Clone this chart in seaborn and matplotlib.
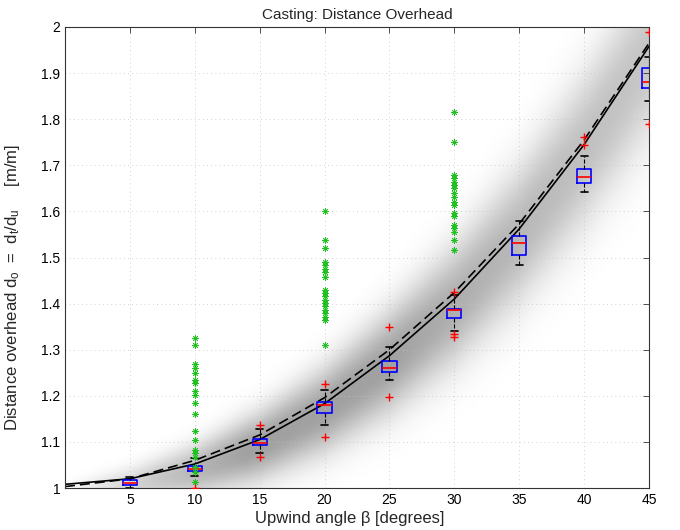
import numpy as np
import pandas as pd
import matplotlib
matplotlib.use('Agg')
import matplotlib.pyplot as plt
import seaborn as sns

# ==========================================
# DATA
# ==========================================
beta_box = [5, 10, 15, 20, 25, 30, 35, 40, 45]
whis_lo = [1.000, 1.025, 1.077, 1.137, 1.234, 1.340, 1.483, 1.641, 1.840]
q1 = [1.0065, 1.037, 1.093, 1.163, 1.251, 1.368, 1.505, 1.662, 1.868]
median = [1.0115, 1.042, 1.097, 1.179, 1.261, 1.387, 1.532, 1.675, 1.881]
q3 = [1.0167, 1.048, 1.107, 1.187, 1.275, 1.389, 1.547, 1.692, 1.910]
whis_hi = [1.0245, 1.066, 1.127, 1.212, 1.306, 1.418, 1.580, 1.721, 1.935]

out_beta = [10, 15, 15, 20, 20, 25, 25, 30, 30, 30, 40, 40, 45, 45]
out_vals = [1.001, 1.136, 1.067, 1.226, 1.110, 1.350, 1.198, 1.425, 1.335, 1.328,
            1.762, 1.745, 1.990, 1.790]

green_10 = [1.325, 1.31, 1.27, 1.26, 1.25, 1.235, 1.227, 1.21, 1.202, 1.184,
            1.161, 1.124, 1.105, 1.082, 1.076, 1.067, 1.046, 1.035, 1.014]
green_20 = [1.601, 1.539, 1.52, 1.491, 1.484, 1.476, 1.469, 1.457, 1.43, 1.423,
            1.416, 1.408, 1.401, 1.394, 1.386, 1.379, 1.372, 1.364, 1.31]
green_30 = [1.816, 1.751, 1.679, 1.672, 1.664, 1.657, 1.651, 1.639, 1.631, 1.62,
            1.614, 1.596, 1.589, 1.570, 1.563, 1.556, 1.538, 1.516]

beta_fit = [0, 5, 10, 15, 20, 25, 30, 35, 40, 45]
fit_solid = [1.008, 1.020, 1.052, 1.105, 1.183, 1.287, 1.410, 1.562, 1.745, 1.958]
fit_dashed = [1.003, 1.020, 1.060, 1.115, 1.196, 1.300, 1.424, 1.573, 1.755, 1.965]

xticks = [5, 10, 15, 20, 25, 30, 35, 40, 45]
yticks = [1.0, 1.1, 1.2, 1.3, 1.4, 1.5, 1.6, 1.7, 1.8, 1.9, 2.0]
ytick_labels = ['1', '1.1', '1.2', '1.3', '1.4', '1.5', '1.6', '1.7', '1.8', '1.9', '2']

# ==========================================
# STYLE
# ==========================================
sns.set_style('white')
plt.rcParams['font.family'] = ['Liberation Sans', 'DejaVu Sans']
plt.rcParams['mathtext.fontset'] = 'custom'
plt.rcParams['mathtext.rm'] = 'Liberation Sans'
plt.rcParams['mathtext.it'] = 'Liberation Sans'

fig = plt.figure(figsize=(6.8, 5.3), dpi=100)
ax = fig.add_axes([65 / 680, 1 - 488 / 530, 584 / 680, 461 / 530])

# gray density band around the fitted curve (spreads and fades with angle)
bx = np.linspace(0, 45, 300)
by = np.linspace(1, 2, 400)
BX, BY = np.meshgrid(bx, by)
center = np.interp(BX, beta_fit, fit_solid) - 0.015
sigma = 0.02 + 0.0036 * BX
amp = np.clip(BX / 14, 0, 1) ** 0.8 * np.minimum(1, 0.11 / sigma)
dens = amp * np.exp(-np.abs((BY - center) / sigma) ** 2.2)
ax.imshow(1 - 0.37 * dens, cmap='gray', vmin=0, vmax=1, extent=[0, 45, 1, 2],
          origin='lower', aspect='auto', interpolation='bilinear', zorder=-1)

# fitted curves
sns.lineplot(x=beta_fit, y=fit_solid, color='black', lw=1.2, ax=ax)
sns.lineplot(x=beta_fit, y=fit_dashed, color='black', lw=1.2, ax=ax,
             linestyle=(0, (6, 3)))

# green samples
green_df = pd.DataFrame({
    'beta': [10] * len(green_10) + [20] * len(green_20) + [30] * len(green_30),
    'val': green_10 + green_20 + green_30,
})
sns.scatterplot(data=green_df, x='beta', y='val', marker=(8, 2, 0), s=18,
                color='#22c022', linewidth=0.6, ax=ax, zorder=3)

# box plots
stats = []
for i in range(len(beta_box)):
    stats.append(dict(med=median[i], q1=q1[i], q3=q3[i],
                      whislo=whis_lo[i], whishi=whis_hi[i], fliers=[]))
ax.bxp(stats, positions=beta_box, widths=1.1, capwidths=0.55, showfliers=False,
       manage_ticks=False,
       boxprops=dict(color='blue', lw=1.2),
       medianprops=dict(color='red', lw=1.2),
       whiskerprops=dict(color='black', lw=0.8, ls='--'),
       capprops=dict(color='black', lw=1.2))

# outliers
sns.scatterplot(x=out_beta, y=out_vals, marker='+', s=40, color='red',
                linewidth=1.0, ax=ax, zorder=4)

# ==========================================
# AXES
# ==========================================
ax.set_xlim(0, 45)
ax.set_ylim(1, 2)
ax.set_xticks(xticks)
ax.set_xticklabels([str(t) for t in xticks])
ax.set_yticks(yticks)
ax.set_yticklabels(ytick_labels)
ax.tick_params(direction='in', length=4, width=0.6, labelsize=10,
               top=True, right=True, colors='#333333', labelcolor='black')
ax.grid(True, ls=(0, (1, 4)), color='#c4c4c4', lw=0.6)
for s in ax.spines.values():
    s.set_color('#333333')
    s.set_linewidth(0.8)

ax.set_title('Casting: Distance Overhead', fontsize=11, pad=6)
ax.set_xlabel('Upwind angle β [degrees]', fontsize=12, labelpad=2)
ax.set_ylabel(r'Distance overhead d$_{\mathrm{o}}$  =  d$_{\mathrm{t}}$/d$_{\mathrm{u}}$     [m/m]',
              fontsize=12)
ax.yaxis.set_label_coords(-0.074, 0.435)
ax.xaxis.set_label_coords(0.488, -0.05)

plt.savefig('out.png', dpi=100)
plt.close()
